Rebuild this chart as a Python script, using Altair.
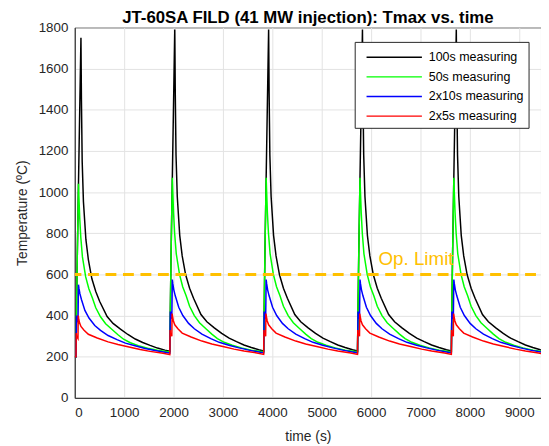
import altair as alt
import pandas as pd

FONT = "Liberation Sans"

# ---- data ----
series_names = ["100s measuring", "50s measuring", "2x10s measuring", "2x5s measuring"]
series_colors = ["#000000", "#00ff00", "#0000ff", "#ff0000"]

initial_temp = 200
pulse_starts = [25, 1925, 3825, 5725, 7625]  # s

# 100 s measuring (black)
black_tau = [0, 10, 25, 50, 75, 100, 110, 125, 150, 200, 250, 320, 400, 480, 630, 750, 900, 1050, 1200, 1350, 1500, 1650, 1800, 1900]
black_first = [200, 405, 675, 1040, 1395, 1750, 1445, 1150, 955, 770, 672, 580, 517, 468, 395, 362, 334, 308, 286, 269, 255, 242, 232, 227]
black_next = [228, 430, 700, 1070, 1430, 1790, 1480, 1180, 980, 790, 690, 598, 533, 484, 405, 370, 340, 313, 290, 273, 257, 245, 234, 228]

# 50 s measuring (green)
green_tau = [0, 10, 25, 50, 60, 75, 97, 130, 196, 260, 330, 400, 496, 600, 730, 850, 963, 1100, 1263, 1450, 1650, 1900]
green_first = [200, 405, 675, 1040, 970, 875, 780, 685, 588, 530, 487, 438, 394, 360, 332, 307, 285, 268, 254, 241, 231, 223]
green_next = [224, 430, 700, 1070, 1000, 900, 800, 700, 600, 540, 496, 445, 400, 365, 336, 310, 288, 270, 256, 243, 232, 224]

# 2x10 s measuring (blue)
blue_tau = [0, 10, 15, 40, 50, 60, 80, 110, 180, 263, 380, 496, 650, 830, 1000, 1196, 1400, 1600, 1830, 1900]
blue_first = [200, 400, 382, 368, 550, 532, 505, 478, 425, 388, 352, 328, 303, 283, 266, 253, 240, 230, 221, 218]
blue_next = [219, 420, 400, 385, 575, 555, 525, 496, 440, 400, 362, 336, 310, 288, 270, 256, 243, 232, 222, 219]

# 2x5 s measuring (red)
red_tau = [0, 5, 10, 40, 45, 55, 70, 100, 163, 250, 430, 650, 850, 1096, 1300, 1500, 1763, 1900]
red_first = [200, 315, 300, 288, 400, 385, 366, 347, 329, 309, 291, 272, 259, 246, 235, 226, 217, 210]
red_next = [211, 330, 315, 300, 410, 395, 375, 355, 336, 315, 296, 276, 262, 248, 237, 228, 218, 211]

profiles = [
    (black_tau, black_first, black_next),
    (green_tau, green_first, green_next),
    (blue_tau, blue_first, blue_next),
    (red_tau, red_first, red_next),
]

op_limit = 600
x_ticks = [0, 1000, 2000, 3000, 4000, 5000, 6000, 7000, 8000, 9000]
y_ticks = [0, 200, 400, 600, 800, 1000, 1200, 1400, 1600, 1800]

rows = []
idx = 0
for name, (tau, first, nxt) in zip(series_names, profiles):
    rows.append({"series": name, "t": 0, "T": initial_temp, "i": idx}); idx += 1
    for k, start in enumerate(pulse_starts):
        vals = first if k == 0 else nxt
        for tt, vv in zip(tau, vals):
            rows.append({"series": name, "t": start + tt, "T": vv, "i": idx}); idx += 1
df = pd.DataFrame(rows)

xscale = alt.Scale(domain=[0, 9440], nice=False, zero=False)
yscale = alt.Scale(domain=[0, 1800], nice=False)

lines = alt.Chart(df).mark_line(strokeWidth=1.5, clip=True).encode(
    x=alt.X("t:Q", scale=xscale,
            axis=alt.Axis(title="time (s)", values=x_ticks, format="d")),
    y=alt.Y("T:Q", scale=yscale,
            axis=alt.Axis(title="Temperature (ºC)", values=y_ticks, format="d")),
    color=alt.Color("series:N",
                    scale=alt.Scale(domain=series_names, range=series_colors),
                    sort=series_names,
                    legend=alt.Legend(
                        title=None, orient="none", legendX=283.4, legendY=14.6,
                        symbolType="M-0.37,0H5.53", symbolSize=361, symbolStrokeWidth=1.4,
                        labelOffset=49, padding=5, rowPadding=1.9,
                        strokeColor="#262626", fillColor="white",
                        labelFont=FONT, labelFontSize=12.6, labelColor="#000000",
                        labelLimit=200)),
    detail="series:N",
    order="i:Q",
)

limit_df = pd.DataFrame({"T": [op_limit]})
limit = alt.Chart(limit_df).mark_rule(color="#ffc000", strokeWidth=3,
                                      strokeDash=[11, 6.7], strokeDashOffset=12.6).encode(
    y=alt.Y("T:Q", scale=yscale)
)

label_df = pd.DataFrame({"t": [6150], "T": [645], "txt": ["Op. Limit"]})
label = alt.Chart(label_df).mark_text(color="#ffc000", font=FONT, fontSize=19,
                                      align="left", baseline="alphabetic").encode(
    x=alt.X("t:Q", scale=xscale), y=alt.Y("T:Q", scale=yscale), text="txt:N"
)

chart = alt.layer(lines, limit, label).properties(
    width=472, height=375,
    title=alt.Title("JT-60SA FILD (41 MW injection): Tmax vs. time",
                    font=FONT, fontSize=17, fontWeight="bold", color="#000000",
                    anchor="middle", offset=-6, frame="group"),
    autosize=alt.AutoSizeParams(type="none"),
    padding={"left": 67.6, "top": 17, "right": 0, "bottom": 45},
).configure_view(
    stroke="#262626", strokeWidth=1
).configure_axis(
    grid=True, gridColor="#e3e3e3", gridWidth=1,
    domainColor="#262626", domainWidth=1,
    ticks=False,
    labelFont=FONT, labelFontSize=13.5, labelColor="#262626",
    titleFont=FONT, titleFontSize=14, titleColor="#262626", titleFontWeight="normal",
).configure_axisX(
    labelPadding=8, titlePadding=11
).configure_axisY(
    labelPadding=7, titlePadding=9
)

chart.save("out.html", embed_options={"renderer": "svg", "actions": False})
